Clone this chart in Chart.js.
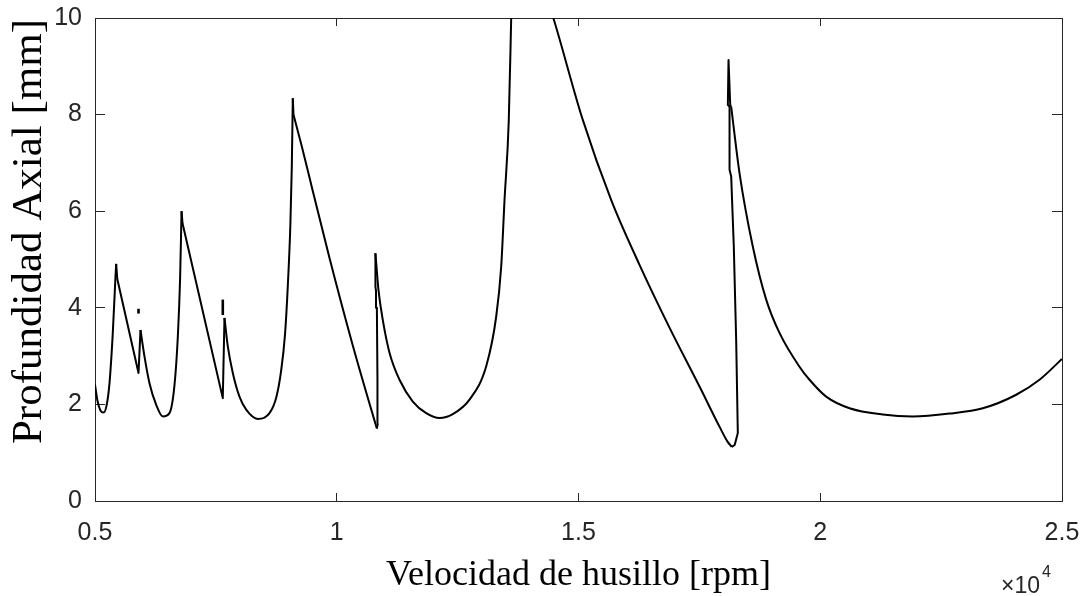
<!DOCTYPE html>
<html><head><meta charset="utf-8">
<script src="https://cdn.jsdelivr.net/npm/chart.js@4.4.0/dist/chart.umd.min.js"></script>
<style>html,body{margin:0;padding:0;background:#fff;}canvas{display:block;}</style>
</head><body>
<canvas id="c" width="1086" height="596"></canvas>
<script>
// ---- tick values / labels ----
const xTicks = [5000, 10000, 15000, 20000, 25000];
const xTickLabels = ['0.5', '1', '1.5', '2', '2.5'];
const yTicks = [0, 2, 4, 6, 8, 10];
const yTickLabels = ['0', '2', '4', '6', '8', '10'];
const xTitle = 'Velocidad de husillo [rpm]';
const yTitle = 'Profundidad Axial [mm]';
const xExponent = '4';

// ---- stability lobe pieces (speed in rpm, axial depth in mm) ----
const rpmA = [5000, 5050, 5110, 5176, 5240, 5300, 5368, 5424, 5438];
const depthA = [2.41, 2.08, 1.88, 1.83, 1.98, 2.44, 3.48, 4.65, 4.91];
const rpmB = [5438, 5460, 5900, 5941];
const depthB = [4.91, 4.60, 2.65, 3.54];
const rpmC = [5941, 6024, 6127, 6266, 6402, 6540, 6644, 6713, 6760, 6790];
const depthC = [3.54, 2.99, 2.44, 1.99, 1.75, 1.82, 2.40, 3.40, 4.60, 6.00];
const rpmD = [6790, 6810, 7643, 7678];
const depthD = [6.00, 5.75, 2.13, 3.79];
const rpmE = [7678, 7747, 7850, 7988, 8127, 8367, 8609, 8750, 8850, 8930, 8990, 9040, 9070, 9091];
const depthE = [3.79, 3.20, 2.65, 2.16, 1.89, 1.70, 1.82, 2.15, 2.70, 3.45, 4.50, 5.70, 6.90, 8.34];
const rpmG = [9091, 9105];
const depthG = [8.34, 8.00];
const rpmF = [9105, 9270, 9499, 9850, 10326, 10800, 10830];
const depthF = [8.00, 7.37, 6.44, 5.03, 3.24, 1.60, 1.50];
const rpmH = [10830, 10848, 10842, 10830, 10812, 10800, 10800];
const depthH = [1.50, 1.60, 2.50, 4.00, 4.35, 4.44, 5.13];
const rpmI = [10800, 10863, 10952, 11091, 11298, 11573, 11850, 12125, 12400, 12746, 13091, 13298, 13401, 13470, 13558, 13608, 13630];
const depthI = [5.13, 4.37, 3.75, 3.07, 2.51, 2.06, 1.82, 1.72, 1.80, 2.10, 2.79, 3.82, 4.85, 6.23, 7.89, 10.0, 11.0];
const rpmJ = [14250, 14483, 15089, 15677, 16262, 16882, 17503, 17916, 18082, 18171];
const depthJ = [10.70, 9.99, 7.89, 6.23, 4.89, 3.59, 2.37, 1.54, 1.23, 1.12];
const rpmK = [18171, 18230, 18295, 18261, 18212, 18158, 18124, 18124, 18089, 18103, 18138, 18158];
const depthK = [1.12, 1.16, 1.41, 3.34, 5.27, 6.72, 6.86, 8.16, 8.20, 9.13, 8.20, 8.16];
const rpmL = [18158, 18330, 18605, 18882, 19157, 19570, 19778, 20123, 20606, 21294, 21914, 22673, 23362, 24053, 24535, 25000];
const depthL = [8.16, 6.79, 5.27, 4.17, 3.48, 2.78, 2.51, 2.16, 1.92, 1.79, 1.75, 1.81, 1.92, 2.20, 2.51, 2.94];
const rpmDash1 = [5900, 5900];
const depthDash1 = [3.88, 3.98];
const rpmDash2 = [7643, 7643];
const depthDash2 = [3.85, 4.17];

// [xs, ys, smooth(monotone)?, width]
const pieces = [
  [rpmA, depthA, true, 2], [rpmB, depthB, false, 2], [rpmC, depthC, true, 2], [rpmD, depthD, false, 2],
  [rpmE, depthE, true, 2], [rpmG, depthG, false, 2], [rpmF, depthF, true, 2], [rpmH, depthH, false, 2],
  [rpmI, depthI, true, 2], [rpmJ, depthJ, true, 2], [rpmK, depthK, false, 2], [rpmL, depthL, true, 2],
  [rpmDash1, depthDash1, false, 2.6], [rpmDash2, depthDash2, false, 2.6]
];

const datasets = pieces.map(([xs, ys, smooth, w]) => ({
  data: xs.map((x, k) => ({x: x, y: ys[k]})),
  showLine: true, borderColor: '#000000', backgroundColor: '#000000',
  borderWidth: w, pointRadius: 0, fill: false,
  cubicInterpolationMode: smooth ? 'monotone' : 'default', tension: 0,
  clip: 0, borderCapStyle: 'butt', borderJoinStyle: 'round'
}));

const AX = '#262626';
const tickFont = {family: '"Liberation Sans", Arial, sans-serif', size: 25};
function setTicks(vals) { return s => { s.ticks = vals.map(v => ({value: v})); }; }
function fitH(h) { return s => { s.height = h; s.paddingLeft = 0; s.paddingRight = 0; s.paddingTop = 0; s.paddingBottom = 0; }; }
function fitW(w) { return s => { s.width = w; s.paddingLeft = 0; s.paddingRight = 0; s.paddingTop = 0; s.paddingBottom = 0; }; }

const extras = {
  id: 'extras',
  afterDraw(chart) {
    const ctx = chart.ctx;
    ctx.save();
    ctx.fillStyle = '#000';
    ctx.font = '43px "Liberation Serif", "Times New Roman", serif';
    ctx.textAlign = 'center'; ctx.textBaseline = 'alphabetic';
    ctx.translate(41, 231.5); ctx.rotate(-Math.PI / 2);
    ctx.fillText(yTitle, 0, 0);
    ctx.restore();
    ctx.save();
    ctx.fillStyle = AX;
    ctx.textAlign = 'left'; ctx.textBaseline = 'alphabetic';
    ctx.font = '23px "Liberation Sans", Arial, sans-serif';
    const base = '\u00d710';
    ctx.fillText(base, 1001, 593);
    const w = ctx.measureText(base).width;
    ctx.font = '16px "Liberation Sans", Arial, sans-serif';
    ctx.fillText(xExponent, 1001 + w + 2, 577);
    ctx.restore();
  }
};

new Chart(document.getElementById('c'), {
  type: 'scatter',
  data: {datasets},
  options: {
    responsive: false, animation: false, devicePixelRatio: 1,
    layout: {padding: {top: 18, right: 24, left: 0, bottom: 0}},
    plugins: {legend: {display: false}, tooltip: {enabled: false}},
    scales: {
      x: {
        type: 'linear', position: 'bottom', min: 5000, max: 25000,
        afterBuildTicks: setTicks(xTicks),
        afterFit: fitH(95),
        ticks: {callback: (v, i) => xTickLabels[i], font: tickFont, color: AX, padding: 25, maxRotation: 0, autoSkip: false},
        grid: {drawOnChartArea: false, drawTicks: true, tickLength: -8, color: AX, lineWidth: 1},
        border: {display: true, color: AX, width: 1},
        title: {display: true, text: xTitle, color: '#000', font: {family: '"Liberation Serif", "Times New Roman", serif', size: 36, lineHeight: 1}, padding: {top: 0, bottom: 2}}
      },
      x2: {
        type: 'linear', position: 'top', min: 5000, max: 25000,
        afterBuildTicks: setTicks(xTicks),
        afterFit: fitH(0),
        ticks: {display: false},
        grid: {drawOnChartArea: false, drawTicks: true, tickLength: -8, color: AX, lineWidth: 1},
        border: {display: true, color: AX, width: 1}
      },
      y: {
        type: 'linear', position: 'left', min: 0, max: 10,
        afterBuildTicks: setTicks(yTicks),
        afterFit: fitW(95),
        ticks: {callback: (v, i) => yTickLabels[i], font: tickFont, color: AX, padding: 23, autoSkip: false},
        grid: {drawOnChartArea: false, drawTicks: true, tickLength: -10, color: AX, lineWidth: 1},
        border: {display: true, color: AX, width: 1}
      },
      y2: {
        type: 'linear', position: 'right', min: 0, max: 10,
        afterBuildTicks: setTicks(yTicks),
        afterFit: fitW(0),
        ticks: {display: false},
        grid: {drawOnChartArea: false, drawTicks: true, tickLength: -10, color: AX, lineWidth: 1},
        border: {display: true, color: AX, width: 1}
      }
    }
  },
  plugins: [extras]
});
</script>
</body></html>
